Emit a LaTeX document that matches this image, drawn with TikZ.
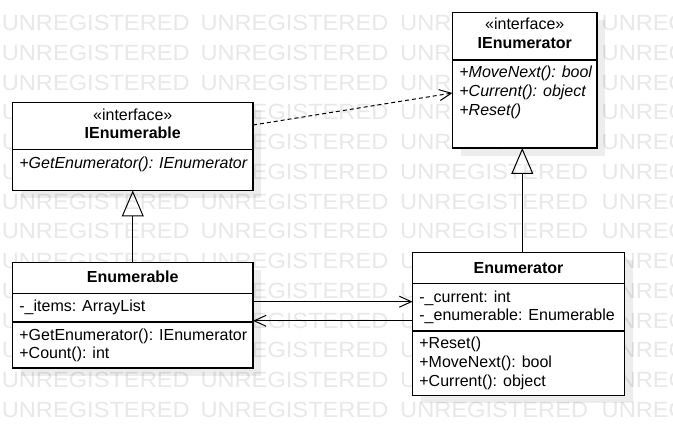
\documentclass[tikz,border=0pt]{standalone}
\usepackage{fontspec}
\setmainfont{Liberation Sans}
\newfontfamily\wmfont[FakeStretch=1.075]{Liberation Sans}
\usetikzlibrary{arrows.meta}
\begin{document}
\begin{tikzpicture}[x=1pt,y=-1pt,
  box/.style={draw=black, line width=1.2pt, fill=white, rectangle, inner sep=0pt, outer sep=0pt, anchor=north west},
  shadowbox/.style={fill=black, opacity=0.07, draw=none, rectangle, inner sep=0pt, outer sep=0pt, anchor=north west},
  txt/.style={inner sep=0pt, anchor=base west, font=\fontsize{16}{19}\selectfont},
  itxt/.style={txt, font=\fontsize{16}{19}\selectfont\itshape},
  ttl/.style={inner sep=0pt, anchor=base, font=\fontsize{16}{19}\selectfont\bfseries},
  ster/.style={inner sep=0pt, anchor=base, font=\fontsize{16}{19}\selectfont},
  wm/.style={inner sep=0pt, anchor=base west, text=black!9, font=\wmfont\fontsize{22}{26}\selectfont},
  conn/.style={line width=1pt, draw=black},
  barb/.style={-{Straight Barb[length=12pt,width=11pt]}},
  gen/.style={-{Triangle[open,length=26pt,width=22pt]}},
  divider/.style={line width=1.2pt}
]
\useasboundingbox (0,0) rectangle (673,446);
\fill[white] (0,0) rectangle (673,446);
% watermark
\begin{scope}
\clip (0,0) rectangle (673,446);
\foreach \r in {0,...,13}{
  \foreach \c/\xx in {0/1.6,1/200.3,2/400,3/601.5}{
    \node[wm] (wm-\r-\c) at (\xx,30.7+29.75*\r) {UNREGISTERED};
  }
}
\end{scope}
% shadows
\node[shadowbox, minimum width=240.5pt, minimum height=88pt] (ienumerableshadow) at (20.5,110.5) {};
\node[shadowbox, minimum width=144.5pt, minimum height=135.5pt] (ienumeratorshadow) at (460.5,20.5) {};
\node[shadowbox, minimum width=240.5pt, minimum height=105.5pt] (enumerableshadow) at (20.5,270.5) {};
\node[shadowbox, minimum width=212pt, minimum height=143pt] (enumeratorshadow) at (420.5,260.5) {};
% boxes
\node[box, minimum width=240.5pt, minimum height=88pt] (ienumerable) at (12.5,102.5) {};
\node[box, minimum width=144.5pt, minimum height=135.5pt] (ienumerator) at (452.5,12.5) {};
\node[box, minimum width=240.5pt, minimum height=105.5pt] (enumerable) at (12.5,262.5) {};
\node[box, minimum width=212pt, minimum height=143pt] (enumerator) at (412.5,252.5) {};
% dividers
\draw[divider] (12.5,149.5) -- (253,149.5);
\draw[divider] (452.5,60) -- (597,60);
\draw[divider] (12.5,293.5) -- (253,293.5);
\draw[divider] (12.5,322) -- (253,322);
\draw[divider] (412.5,283.5) -- (624.5,283.5);
\draw[divider] (412.5,331) -- (624.5,331);
% IEnumerable texts
\node[ster] (ienumerable-st) at (132.75,120.5) {«interface»};
\node[ttl] (ienumerable-t) at (132.75,139) {IEnumerable};
\node[itxt] (ienumerable-m1) at (19.2,168.3) {+GetEnumerator(): IEnumerator};
% IEnumerator texts
\node[ster] (ienumerator-st) at (524.75,29.5) {«interface»};
\node[ttl] (ienumerator-t) at (524.75,49) {IEnumerator};
\node[itxt] (ienumerator-m1) at (459.2,78) {+MoveNext(): bool};
\node[itxt] (ienumerator-m2) at (459.2,96.8) {+Current(): object};
\node[itxt] (ienumerator-m3) at (459.2,115.6) {+Reset()};
% Enumerable texts
\node[ttl] (enumerable-t) at (132.75,282.7) {Enumerable};
\node[txt] (enumerable-a1) at (19.2,311.7) {-\_items: ArrayList};
\node[txt] (enumerable-m1) at (19.2,340.5) {+GetEnumerator(): IEnumerator};
\node[txt] (enumerable-m2) at (19.2,358.5) {+Count(): int};
% Enumerator texts
\node[ttl] (enumerator-t) at (518.5,273.3) {Enumerator};
\node[txt] (enumerator-a1) at (419.2,302.3) {-\_current: int};
\node[txt] (enumerator-a2) at (419.2,320.7) {-\_enumerable: Enumerable};
\node[txt] (enumerator-m1) at (419.2,349) {+Reset()};
\node[txt] (enumerator-m2) at (419.2,367.7) {+MoveNext(): bool};
\node[txt] (enumerator-m3) at (419.2,386.5) {+Current(): object};
% connectors
\draw[conn, barb, dash pattern=on 4pt off 3pt] ([yshift=21.5pt]ienumerable.east) -- ([yshift=-12.75pt]ienumerator.west);
\draw[conn, gen] (enumerable.north) -- (ienumerable.south);
\draw[conn, gen] ([xshift=3.8pt]enumerator.north) -- ([xshift=3.8pt]enumerator.north |- ienumerator.south);
\draw[conn, barb] ([yshift=13.55pt]enumerable.east) -- ([yshift=22.3pt]enumerator.west);
\draw[conn, barb] ([yshift=3.2pt]enumerator.west) -- ([yshift=-5.55pt]enumerable.east);
\end{tikzpicture}
\end{document}
